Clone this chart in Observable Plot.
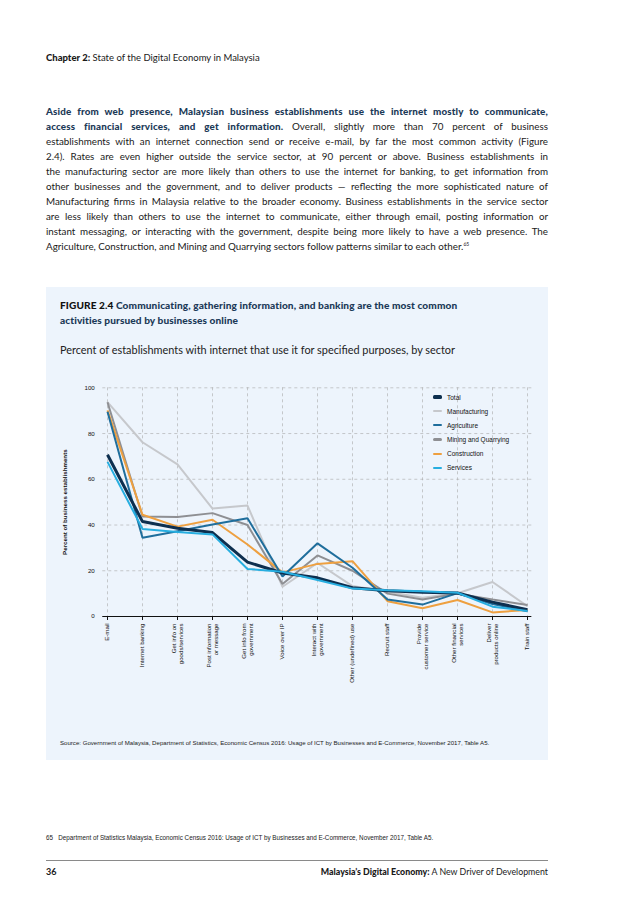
<!DOCTYPE html>
<html>
<head>
<meta charset="utf-8">
<script src="https://cdn.jsdelivr.net/npm/d3@7"></script>
<script src="https://cdn.jsdelivr.net/npm/@observablehq/plot@0.6"></script>
<style>
  html, body { margin: 0; padding: 0; background: #ffffff; }
  body { width: 638px; height: 903px; position: relative; overflow: hidden; font-family: "Lato", "Open Sans", sans-serif; color: #1a1a1a; }
  .abs { position: absolute; }
  #header { left: 46px; top: 52px; font-size: 9.5px; line-height: 12px; white-space: nowrap; }
  #header b { font-weight: 900; }
  #para { left: 46px; top: 103.5px; width: 502px; font-size: 9.8px; line-height: 15px; }
  #para .ln { text-align: justify; text-align-last: justify; white-space: nowrap; }
  #para .ln.last { text-align-last: left; }
  #para .lead { font-weight: 900; color: #1c3a58; letter-spacing: 0.15px; }
  #para sup { font-size: 5px; vertical-align: 4px; line-height: 0; }
  #box { left: 46px; top: 287px; width: 502px; height: 473px; background: #edf4fc; }
  #ftitle { left: 60px; top: 297.5px; font-size: 10.1px; line-height: 15px; font-weight: 900; color: #1c3a58; letter-spacing: 0.1px; white-space: nowrap; }
  #ftitle .fig { color: #111; }
  #subtitle { left: 60px; top: 341.5px; font-size: 10.9px; line-height: 15px; white-space: nowrap; color: #222; }
  #chart { left: 46px; top: 365px; }
  #legend { left: 433px; top: 390px; font-family: "Liberation Sans", Arial, sans-serif; font-size: 6.5px; color: #111; }
  #legend .row { height: 14.15px; display: flex; align-items: center; }
  #legend .sw { width: 9px; border-radius: 1.5px; margin-right: 5px; }
  #source { left: 60px; top: 738px; font-family: "Liberation Sans", Arial, sans-serif; font-size: 6.1px; line-height: 10px; white-space: nowrap; color: #222; }
  #footnote { left: 46px; top: 833px; font-family: "Liberation Sans", Arial, sans-serif; font-size: 6.3px; line-height: 10px; white-space: nowrap; color: #222; }
  #rule { left: 46px; top: 860px; width: 502px; height: 0; border-top: 0.8px solid #8a8a8a; }
  #pnum { left: 46px; top: 866px; font-size: 9px; line-height: 12px; font-weight: 700; }
  #ftr { right: 90px; top: 866px; font-size: 8.8px; line-height: 12px; white-space: nowrap; }
  #ftr b { font-weight: 900; }
  svg [aria-label="y-axis label"] text, svg [aria-label="y-axis label"] { font-weight: bold; }
</style>
</head>
<body>
<div id="header" class="abs"><b>Chapter 2:</b> State of the Digital Economy in Malaysia</div>

<div id="para" class="abs">
  <div class="ln"><span class="lead">Aside from web presence, Malaysian business establishments use the internet mostly to communicate,</span></div>
  <div class="ln"><span class="lead">access financial services, and get information.</span> Overall, slightly more than 70 percent of business</div>
  <div class="ln">establishments with an internet connection send or receive e-mail, by far the most common activity (Figure</div>
  <div class="ln">2.4). Rates are even higher outside the service sector, at 90 percent or above. Business establishments in</div>
  <div class="ln">the manufacturing sector are more likely than others to use the internet for banking, to get information from</div>
  <div class="ln">other businesses and the government, and to deliver products — reflecting the more sophisticated nature of</div>
  <div class="ln">Manufacturing firms in Malaysia relative to the broader economy. Business establishments in the service sector</div>
  <div class="ln">are less likely than others to use the internet to communicate, either through email, posting information or</div>
  <div class="ln">instant messaging, or interacting with the government, despite being more likely to have a web presence. The</div>
  <div class="ln last">Agriculture, Construction, and Mining and Quarrying sectors follow patterns similar to each other.<sup>65</sup></div>
</div>

<div id="box" class="abs"></div>
<div id="ftitle" class="abs"><span class="fig">FIGURE 2.4</span> Communicating, gathering information, and banking are the most common<br>activities pursued by businesses online</div>
<div id="subtitle" class="abs">Percent of establishments with internet that use it for specified purposes, by sector</div>
<div id="chart" class="abs"></div>
<div id="legend" class="abs"></div>
<div id="source" class="abs">Source: Government of Malaysia, Department of Statistics, Economic Census 2016: Usage of ICT by Businesses and E-Commerce, November 2017, Table A5.</div>
<div id="footnote" class="abs">65&nbsp;&nbsp;&nbsp;Department of Statistics Malaysia, Economic Census 2016: Usage of ICT by Businesses and E-Commerce, November 2017, Table A5.</div>
<div id="rule" class="abs"></div>
<div id="pnum" class="abs">36</div>
<div id="ftr" class="abs"><b>Malaysia’s Digital Economy:</b> A New Driver of Development</div>

<script>
// ---- data ----
const categories = [
  "E-mail",
  "Internet banking",
  "Get info on\ngoods/services",
  "Post information\nor message",
  "Get info from\ngovernment",
  "Voice over IP",
  "Interact with\ngovernment",
  "Other (undefined) use",
  "Recruit staff",
  "Provide\ncustomer service",
  "Other financial\nservices",
  "Deliver\nproducts online",
  "Train staff"
];
const seriesNames = ["Total", "Manufacturing", "Agriculture", "Mining and Quarrying", "Construction", "Services"];
const total         = [70.7, 41.5, 38.6, 36.7, 23.8, 19.0, 16.9, 12.6, 11.3, 10.6, 10.3, 6.3, 3.0];
const manufacturing = [93.7, 76.2, 66.5, 47.2, 48.5, 13.0, 23.4, 13.3, 10.8, 8.2, 10.2, 15.1, 4.5];
const agriculture   = [89.5, 34.4, 37.3, 40.2, 43.0, 17.5, 32.0, 21.3, 7.4, 5.2, 10.2, 5.5, 2.3];
const mining        = [93.7, 43.7, 43.5, 45.2, 40.0, 14.2, 26.7, 20.0, 10.0, 7.4, 10.0, 7.4, 5.0];
const construction  = [90.1, 44.5, 39.3, 42.3, 31.5, 19.3, 23.0, 24.2, 6.7, 3.6, 7.2, 1.8, 2.8];
const services      = [67.6, 38.3, 36.9, 35.9, 20.8, 19.6, 16.0, 12.2, 11.5, 11.0, 10.4, 4.3, 2.4];
const yTicks = [0, 20, 40, 60, 80, 100];
const yLabel = "Percent of business establishments";

const seriesValues = [total, manufacturing, agriculture, mining, construction, services];
const seriesColors = ["#0d2f4f", "#c6c8cc", "#1f6e9c", "#8e8f93", "#eea040", "#27aee0"];
const seriesWidths = [3, 2, 2, 2, 2, 2];
const drawOrder = ["Manufacturing", "Mining and Quarrying", "Construction", "Agriculture", "Total", "Services"];

const rows = seriesNames.flatMap((s, i) => seriesValues[i].map((v, j) => ({series: s, cat: categories[j], value: v})));

const font = "'Liberation Sans', Arial, sans-serif";

const lineMarks = drawOrder.map(s => {
  const i = seriesNames.indexOf(s);
  return Plot.line(rows.filter(d => d.series === s), {
    x: "cat", y: "value", stroke: seriesColors[i], strokeWidth: seriesWidths[i],
    strokeLinejoin: "miter", strokeLinecap: "butt"
  });
});

const chart = Plot.plot({
  width: 502,
  height: 372,
  marginLeft: 56.3,
  marginRight: 16.7,
  marginTop: 22.3,
  marginBottom: 121,
  style: {background: "transparent", fontFamily: font, fontSize: "6px", color: "#111"},
  x: {type: "point", domain: categories, padding: 0},
  y: {domain: [0, 100]},
  marks: [
    Plot.gridY(yTicks, {stroke: "#a8a8a8", strokeOpacity: 1, strokeWidth: 0.6, strokeDasharray: "3,3"}),
    Plot.gridX(categories, {stroke: "#a8a8a8", strokeOpacity: 1, strokeWidth: 0.6, strokeDasharray: "3,3"}),
    Plot.axisY(yTicks, {tickSize: 0, tickPadding: 8, fontSize: 6.2, label: yLabel, labelAnchor: "center", labelOffset: 40, labelArrow: "none"}),
    Plot.axisX(categories, {tickSize: 4, tickRotate: -90, tickPadding: 3, fontSize: 6.1, label: null, stroke: "#111"}),
    ...lineMarks,
    Plot.ruleY([0], {stroke: "#111", strokeWidth: 1})
  ]
});
document.getElementById("chart").appendChild(chart);

// legend
const legend = document.getElementById("legend");
seriesNames.forEach((s, i) => {
  const row = document.createElement("div");
  row.className = "row";
  const sw = document.createElement("span");
  sw.className = "sw";
  sw.style.background = seriesColors[i];
  sw.style.height = (i === 0 ? 3.5 : 2.2) + "px";
  const t = document.createElement("span");
  t.textContent = s;
  row.appendChild(sw); row.appendChild(t);
  legend.appendChild(row);
});
</script>
</body>
</html>
